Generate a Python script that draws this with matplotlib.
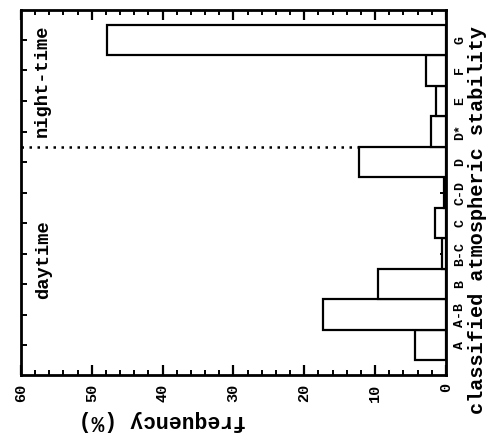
import matplotlib
matplotlib.use("Agg")
import matplotlib.pyplot as plt
from matplotlib.ticker import MultipleLocator

# ── Datos (girada 90°) ────────────────────────────────────────────────────────
categorias = ["A", "A-B", "B", "B-C", "C", "C-D", "D", "D*", "E", "F", "G"]
frecuencia = [4.4, 17.3, 9.6, 0.5, 1.5, 0.3, 12.3, 2.1, 1.4, 2.8, 47.9]
limite_dia_noche = 6.5  # entre D y D*

FUENTE = "Liberation Mono"

fig = plt.figure(figsize=(4.91, 4.38), dpi=100)
ax = fig.add_axes([0.0428, 0.1438, 0.8652, 0.8332])

pos = list(range(len(categorias)))
ax.barh(pos, frecuencia, height=1.0, color="white", edgecolor="black",
        linewidth=1.6, zorder=3)
ax.axhline(limite_dia_noche, color="black", ls=(0, (1, 2.2)), lw=1.8, zorder=2)

ax.set_xlim(60, 0)
ax.set_ylim(-0.98, 10.98)

# eje de frecuencias (abajo, texto girado)
ax.xaxis.set_major_locator(MultipleLocator(10))
ax.xaxis.set_minor_locator(MultipleLocator(2))
ax.tick_params(axis="x", which="major", direction="in", top=True, bottom=True,
               length=7, width=1.6, pad=6, labelsize=11)
ax.tick_params(axis="x", which="minor", direction="in", top=True, bottom=True,
               length=3.5, width=1.4)
for lab in ax.get_xticklabels():
    lab.set_rotation(90)
    lab.set_fontfamily(FUENTE)
    lab.set_fontweight("bold")

# eje de categorías (derecha)
ax.set_yticks(pos)
ax.set_yticklabels(categorias)
ax.tick_params(axis="y", direction="in", left=True, right=True, labelleft=False,
               labelright=True, length=4, width=1.4, pad=6, labelsize=9.5)
for lab in ax.get_yticklabels():
    lab.set_rotation(90)
    lab.set_fontfamily(FUENTE)
    lab.set_fontweight("bold")
    lab.set_va("center")

for s in ax.spines.values():
    s.set_linewidth(2.0)

ax.text(57.0, 8.65, "night-time", rotation=90, ha="center", va="center",
        fontsize=13.5, family=FUENTE, weight="bold")
ax.text(56.8, 2.8, "daytime", rotation=90, ha="center", va="center",
        fontsize=13.5, family=FUENTE, weight="bold")

fig.text(0.33, 0.041, "frequency (%)", rotation=180, ha="center", va="center",
         fontsize=15.5, family=FUENTE, weight="bold")
fig.text(0.972, 0.498, "classified atmospheric stability", rotation=90,
         ha="center", va="center", fontsize=14.5, family=FUENTE, weight="bold")

fig.savefig("out.png", dpi=100, facecolor="white")
plt.close(fig)
